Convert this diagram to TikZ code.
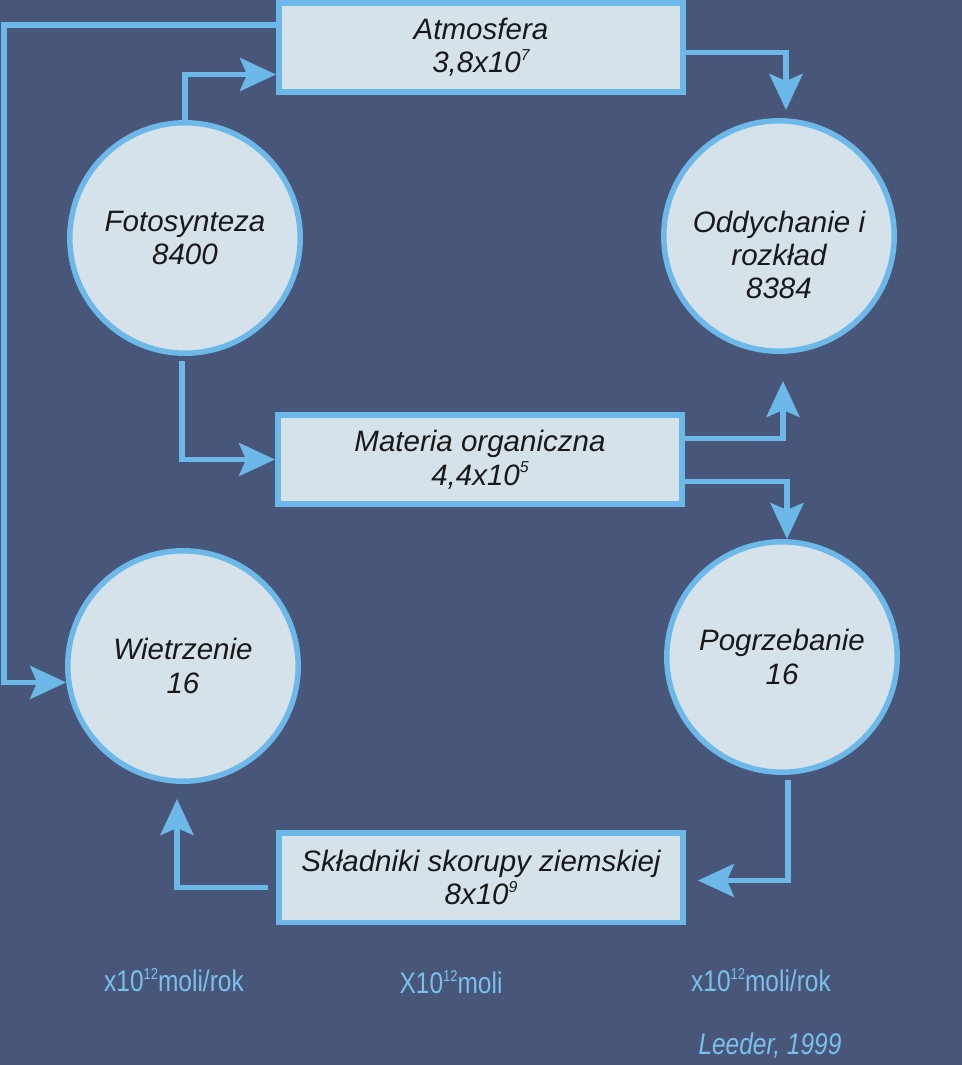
\documentclass[tikz,border=0pt]{standalone}
\usepackage{fontspec}
\setmainfont{Liberation Sans}
\newfontfamily\waski[FakeStretch=0.82]{Liberation Sans}
\usepackage{tikz}
\usetikzlibrary{positioning}
\usetikzlibrary{arrows.meta}
\usetikzlibrary{calc}

\definecolor{tlo}{RGB}{72,86,121}
\definecolor{niebieski}{RGB}{108,184,232}
\definecolor{wypelnienie}{RGB}{214,226,234}
\definecolor{opis}{RGB}{122,192,236}

\newcommand{\potega}[1]{\raisebox{0.8ex}{\fontsize{9}{9}\selectfont #1}}

\begin{document}
\begin{tikzpicture}[x=0.02cm, y=-0.02cm,
    kolo/.style={draw=niebieski, circle, fill=wypelnienie, line width=0.11cm, minimum size=4.61cm, inner sep=0pt},
    pudlo/.style={draw=niebieski, rectangle, fill=wypelnienie, line width=0.11cm, minimum width=8.09cm, minimum height=1.79cm},
    etykieta/.style={align=center, font=\fontsize{16.8}{19}\selectfont\itshape, text=black!90},
    strz/.style={draw=niebieski, line width=0.11cm, -{Stealth[length=0.72cm, width=0.66cm, inset=0.14cm]}},
    jednostka/.style={font=\waski\fontsize{17}{20}\selectfont, text=opis}]
            \useasboundingbox (0,0) rectangle (962,1065);
            \fill[tlo] (0,0) rectangle (962,1065);

            % Węzły
            \node[pudlo, etykieta] (atm) at (481,47.5) {Atmosfera\\3,8x10\potega{7}};
            \node[kolo, etykieta] (fot) at (185,238) {Fotosynteza\\8400};
            \node[kolo] (odd) at (779,236) {};
            \node[etykieta] (oddtekst) at (779,255) {Oddychanie i\\rozkład\\8384};
            \node[pudlo, etykieta] (mat) at (480,459.5) {Materia organiczna\\4,4x10\potega{5}};
            \node[kolo, etykieta] (wie) at (183,666) {Wietrzenie\\16};
            \node[kolo, etykieta] (pog) at (782,657) {Pogrzebanie\\16};
            \node[pudlo, etykieta] (skl) at (481,877.5) {Składniki skorupy ziemskiej\\8x10\potega{9}};
            \coordinate (lewy) at (4,25);

            % Strzałki
            \draw[strz] (atm.west |- lewy) -- (lewy) |- (wie.188);
            \draw[strz] (fot.north) |- ($(atm.west)+(0,27)$);
            \draw[strz] ($(atm.east)+(0,5)$) -| ($(odd.north)+(7,-8)$);
            \draw[strz] ($(fot.south)+(-3,5)$) |- (mat.west);
            \draw[strz] ($(mat.east)+(0,-21)$) -| ($(odd.south)+(4,27)$);
            \draw[strz] ($(mat.east)+(0,22)$) -| ($(pog.north)+(5,0)$);
            \draw[strz] ($(pog.south)+(6,5)$) |- ($(skl.east)+(12,3)$);
            \draw[strz] ($(skl.west)+(-8,10)$) -| ($(wie.south)+(-6,15)$);

            % Opisy
            \node[jednostka] (jedn1) at (174,980) {x10\potega{12}moli/rok};
            \node[jednostka] (jedn2) at (451,982) {X10\potega{12}moli};
            \node[jednostka] (jedn3) at (761,980) {x10\potega{12}moli/rok};
            \node[jednostka, font=\waski\fontsize{17}{20}\selectfont\itshape] (zrodlo) at (770,1046) {Leeder, 1999};
\end{tikzpicture}
\end{document}
